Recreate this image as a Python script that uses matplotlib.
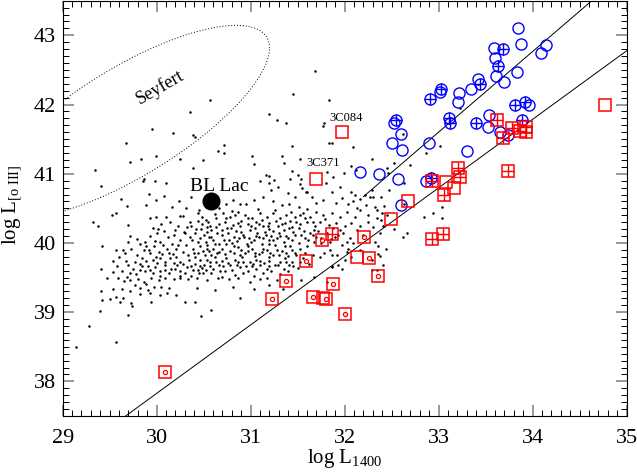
import numpy as np
import matplotlib
matplotlib.use("Agg")
import matplotlib.pyplot as plt

plt.rcParams["font.family"] = ["Liberation Serif", "DejaVu Serif"]
plt.rcParams["mathtext.fontset"] = "custom"
plt.rcParams["mathtext.rm"] = "Liberation Serif"
plt.rcParams["mathtext.it"] = "Liberation Serif:italic"

# background sample (black dots), log L1400 vs log L[OIII]
dots = np.array([
    (31.68, 42.49), (31.45, 42.15), (31.83, 42.07), (30.57, 42.07), (30.35, 41.89), (31.20, 41.86),
    (31.28, 41.77), (31.38, 41.74), (29.95, 41.65), (30.17, 41.59), (30.39, 41.56), (30.41, 41.53),
    (31.78, 41.74), (31.77, 41.69), (29.67, 41.44), (30.72, 41.42), (31.44, 41.40), (31.83, 41.44),
    (31.86, 41.44), (29.72, 41.17), (29.83, 41.22), (29.99, 41.25), (30.25, 41.22), (30.49, 41.20),
    (29.34, 41.05), (30.39, 41.08), (29.41, 40.82), (29.85, 40.89), (29.86, 40.93), (29.98, 40.89),
    (30.10, 40.86), (30.65, 41.33),
    # left part of the cloud
    (29.92, 40.71), (29.99, 40.62), (30.08, 40.68), (29.62, 40.64), (29.68, 40.54), (29.89, 40.55),
    (30.16, 40.52), (30.24, 40.60), (30.31, 40.51), (30.37, 40.67), (30.44, 40.44), (29.57, 40.44),
    (29.52, 40.41), (29.32, 40.30), (29.38, 40.24), (29.69, 40.26), (29.93, 40.36), (29.99, 40.37),
    (30.10, 40.37), (30.25, 40.39), (30.28, 40.39), (30.35, 40.31), (30.48, 40.38), (30.62, 40.42),
    (30.66, 40.50), (30.55, 40.31), (30.05, 40.28), (30.14, 40.30), (30.23, 40.24), (29.96, 40.21),
    (30.01, 40.20), (30.57, 40.25), (30.63, 40.23), (30.42, 40.20), (30.32, 40.23), (29.72, 40.10),
    (29.82, 39.99), (29.88, 40.01), (29.98, 40.03), (30.04, 40.02), (30.12, 40.08), (30.18, 40.12),
    (30.16, 39.99), (30.25, 40.04), (30.30, 40.14), (30.35, 40.09), (30.41, 40.15), (30.44, 40.02),
    (30.50, 40.12), (30.53, 40.16), (30.58, 40.09), (30.64, 40.14), (30.07, 39.97), (29.42, 39.96),
    (29.57, 39.90), (29.64, 39.90), (29.86, 39.90), (29.93, 39.85), (30.02, 39.87), (30.11, 39.92),
    (30.21, 39.92), (30.28, 39.87), (30.39, 39.92), (30.46, 39.95), (30.53, 39.97), (30.60, 39.92),
    (30.66, 39.99), (29.84, 39.78), (29.89, 39.74), (29.96, 39.75), (30.04, 39.78), (30.09, 39.73),
    (30.14, 39.78), (30.21, 39.80), (30.25, 39.73), (30.34, 39.75), (30.41, 39.80), (30.46, 39.75),
    (30.51, 39.83), (30.57, 39.73), (30.62, 39.80), (29.54, 39.74), (29.67, 39.74), (29.70, 39.68),
    (29.75, 39.63), (29.41, 39.63), (29.82, 39.61), (29.88, 39.59), (29.93, 39.61), (29.98, 39.65),
    (30.04, 39.59), (30.09, 39.61), (30.13, 39.57), (30.19, 39.62), (30.25, 39.59), (30.32, 39.65),
    (30.39, 39.61), (30.46, 39.67), (30.52, 39.61), (30.60, 39.63), (30.66, 39.68), (29.47, 39.49),
    (29.59, 39.50), (29.68, 39.51), (29.72, 39.47), (29.80, 39.48), (29.86, 39.44), (29.94, 39.50),
    (30.02, 39.47), (30.09, 39.50), (30.18, 39.48), (30.25, 39.50), (30.33, 39.48), (30.43, 39.50),
    (30.53, 39.46), (30.65, 39.50), (29.77, 39.39), (29.89, 39.41), (29.97, 39.37), (30.05, 39.36),
    (30.13, 39.35), (29.91, 39.32), (30.04, 39.25), (30.11, 39.27), (30.21, 39.25), (30.43, 39.35),
    (30.62, 39.32), (29.54, 39.33), (29.63, 39.33), (29.72, 39.31), (29.82, 39.35), (29.41, 39.30),
    (29.82, 39.26), (29.93, 39.27), (29.42, 39.18), (29.50, 39.19), (29.57, 39.22), (29.64, 39.21),
    (29.73, 39.13), (29.74, 39.09), (29.61, 39.15), (29.94, 39.15), (30.30, 39.14), (30.41, 39.15),
    (29.40, 39.02), (29.69, 38.96), (30.47, 38.95), (30.58, 39.03), (29.28, 38.80), (29.57, 38.57),
    (29.14, 38.50),
    (30.54, 40.23), (30.58, 40.19), (30.60, 40.04), (30.56, 39.89), (30.64, 39.85), (30.53, 39.75),
    (30.58, 39.56), (30.67, 39.59), (30.49, 39.56), (30.50, 39.68), (30.44, 39.61),
    (30.29, 40.16), (30.38, 40.04), (30.47, 40.20), (30.56, 40.09), (30.62, 39.99), (30.31, 39.97),
    (30.40, 39.86), (30.49, 39.89), (30.58, 39.83), (30.28, 39.70), (30.37, 39.67), (30.45, 39.56),
    (30.57, 39.67), (30.25, 39.52), (30.18, 39.71), (30.09, 39.68), (30.00, 39.71), (29.91, 39.67),
    (29.82, 39.70), (29.77, 39.73), (29.72, 39.56), (29.63, 39.59), (30.13, 39.85), (29.97, 39.95),
    (29.89, 39.96),
    (29.60, 39.80), (29.66, 39.85), (29.73, 39.92), (29.79, 39.83), (29.92, 39.90), (29.99, 39.80),
    (30.06, 39.84), (30.17, 39.84), (30.23, 39.97), (30.33, 39.83), (29.53, 39.58), (29.58, 39.66),
    (29.65, 39.45), (29.78, 39.55), (29.84, 39.66), (29.96, 39.56), (30.03, 39.52), (30.15, 39.63),
    (30.22, 39.68), (30.30, 39.57), (30.37, 39.52), (29.70, 40.02), (29.79, 40.06), (29.93, 40.10),
    (30.00, 40.14), (30.08, 40.18), (30.20, 40.19), (30.37, 40.24), (30.44, 40.32),
    # middle and right part of the cloud
    (30.72, 41.30), (31.01, 41.25), (31.03, 41.14), (31.33, 41.26), (31.35, 41.15), (31.52, 41.21),
    (32.29, 41.21), (31.44, 41.04), (31.50, 40.98), (31.42, 40.93), (31.54, 40.92), (31.16, 40.98),
    (31.19, 40.86), (31.20, 40.97), (31.25, 40.91), (31.10, 40.89), (31.29, 40.81), (31.22, 40.76),
    (31.52, 40.85), (31.59, 40.74), (31.60, 40.74), (31.55, 40.79), (31.40, 40.72), (31.47, 40.67),
    (31.81, 41.02), (31.88, 40.95), (31.80, 40.87), (31.86, 40.73), (31.95, 40.81), (31.99, 41.01),
    (32.07, 40.73), (32.11, 40.70), (32.16, 40.64), (32.22, 40.69), (32.29, 40.77), (32.13, 40.51),
    (32.23, 40.55), (32.32, 40.52), (32.42, 40.53), (32.45, 40.40), (32.39, 40.33), (32.35, 39.95),
    (32.38, 39.81), (32.09, 40.60), (32.04, 40.57), (31.97, 40.65), (31.91, 40.58), (31.77, 40.62),
    (31.70, 40.58), (31.65, 40.67), (31.13, 40.67), (31.03, 40.62), (30.95, 40.56), (30.89, 40.57),
    (30.81, 40.62), (30.74, 40.57), (31.24, 40.60), (31.33, 40.55), (31.41, 40.57), (31.51, 40.52),
    (31.60, 40.49),
    (30.71, 40.43), (30.78, 40.38), (30.87, 40.45), (30.94, 40.40), (31.01, 40.36), (31.10, 40.43),
    (31.17, 40.38), (31.24, 40.43), (31.31, 40.36), (31.38, 40.40), (31.47, 40.38), (31.56, 40.43),
    (31.63, 40.38), (31.70, 40.45), (31.77, 40.40), (31.86, 40.43), (31.95, 40.38), (32.02, 40.45),
    (32.11, 40.38), (32.16, 40.48), (32.25, 40.40), (32.34, 40.36), (30.73, 40.31), (30.81, 40.26),
    (30.90, 40.32), (30.97, 40.27), (31.06, 40.31), (31.13, 40.25), (31.20, 40.29), (31.29, 40.24),
    (31.36, 40.29), (31.44, 40.23), (31.52, 40.27), (31.60, 40.31), (31.68, 40.25), (31.74, 40.31),
    (31.83, 40.26), (31.91, 40.29), (32.00, 40.24), (32.07, 40.29), (32.16, 40.25), (32.25, 40.31),
    (32.30, 40.23), (30.69, 40.19), (30.76, 40.14), (30.84, 40.18), (30.92, 40.12), (30.99, 40.19),
    (31.07, 40.14), (31.15, 40.16), (31.22, 40.10), (31.30, 40.15), (31.38, 40.10), (31.45, 40.16),
    (31.54, 40.12), (31.63, 40.14), (31.70, 40.08), (31.81, 40.14), (31.90, 40.08), (31.98, 40.14),
    (32.06, 40.07), (32.13, 40.19), (32.20, 40.12), (30.72, 40.05), (30.80, 40.00), (30.88, 40.07),
    (30.96, 39.99), (31.03, 40.04), (31.12, 39.99), (31.19, 40.04), (31.26, 39.97), (31.35, 40.02),
    (31.42, 39.96), (31.51, 40.00), (31.60, 39.95), (31.67, 40.02), (31.97, 39.97), (32.04, 39.92),
    (32.09, 40.00), (32.16, 39.90), (30.70, 39.92), (30.78, 39.88), (30.86, 39.94), (30.94, 39.85),
    (31.01, 39.91), (31.09, 39.84), (31.17, 39.90), (31.24, 39.83), (31.33, 39.88), (31.40, 39.81),
    (31.47, 39.86), (31.56, 39.79), (31.74, 39.80), (31.84, 39.90), (31.86, 39.83), (30.74, 39.79),
    (30.83, 39.76), (30.91, 39.80), (30.99, 39.72), (31.06, 39.76), (31.14, 39.71), (31.20, 39.74),
    (31.29, 39.68), (31.38, 39.72), (31.45, 39.66), (30.71, 39.66), (30.80, 39.61), (30.89, 39.65),
    (30.97, 39.59), (31.06, 39.62), (31.13, 39.56), (31.22, 39.60), (31.31, 39.55), (31.40, 39.59),
    (30.69, 39.51), (30.77, 39.48), (30.87, 39.50), (30.99, 39.44), (31.10, 39.48), (30.81, 39.37),
    (31.03, 39.33), (31.20, 39.39), (31.81, 39.44), (31.86, 39.66), (31.93, 39.68), (31.75, 40.00),
    (31.84, 40.02), (32.00, 39.75), (32.07, 39.80), (32.29, 39.75), (32.34, 39.61), (32.41, 39.68),
    (32.30, 40.67), (32.39, 40.67), (32.47, 40.77), (30.89, 39.20),
    (30.74, 40.36), (30.83, 40.40), (30.89, 40.24), (30.97, 40.36), (31.05, 40.21), (31.12, 40.33),
    (31.20, 40.20), (31.27, 40.32), (31.35, 40.19), (31.42, 40.32), (31.51, 40.21), (31.58, 40.36),
    (31.67, 40.19), (30.75, 40.21), (30.82, 40.09), (30.90, 40.16), (30.98, 40.07), (31.06, 40.10),
    (31.13, 40.07), (31.20, 39.99), (31.28, 40.07), (31.36, 39.95), (31.44, 40.04), (31.52, 39.92),
    (31.61, 40.04), (30.74, 39.99), (30.82, 39.95), (30.90, 39.90), (30.97, 39.95), (31.05, 39.85),
    (31.13, 39.92), (31.20, 39.80), (31.28, 39.90), (31.36, 39.78), (31.44, 39.90), (31.52, 39.73),
    (30.76, 39.71), (30.85, 39.68), (30.92, 39.73), (31.01, 39.66), (31.10, 39.68), (31.17, 39.63),
    (31.26, 39.68), (31.35, 39.63), (31.44, 39.73), (30.73, 39.59), (30.83, 39.54), (30.92, 39.56),
    (31.03, 39.52), (31.17, 39.49), (31.28, 39.47),
    (30.45, 40.47), (30.52, 40.33), (30.63, 40.36), (30.80, 40.46), (31.08, 40.49), (31.26, 40.47),
    (31.43, 40.45), (31.52, 40.41), (31.66, 40.31), (31.79, 40.34),
    (30.48, 40.28), (30.66, 40.28), (30.79, 40.21), (30.86, 40.29), (31.00, 40.24), (31.09, 40.27),
    (31.18, 40.24), (31.24, 40.18), (31.33, 40.27), (31.41, 40.21), (31.48, 40.30), (31.57, 40.18),
    (31.72, 40.18), (31.88, 40.21), (31.95, 40.19),
    (30.46, 40.07), (30.52, 40.02), (30.69, 40.11), (30.77, 40.05), (30.85, 40.03), (30.93, 40.09),
    (31.00, 40.02), (31.09, 40.08), (31.16, 40.12), (31.24, 40.05), (31.31, 40.10), (31.40, 40.07),
    (31.47, 40.11), (31.58, 40.07), (31.66, 40.11), (31.75, 40.07), (31.85, 40.06), (31.93, 40.12),
    (32.02, 40.02),
    (30.44, 39.86), (30.53, 39.92), (30.66, 39.87), (30.73, 39.84), (30.82, 39.86), (30.89, 39.83),
    (30.97, 39.88), (31.05, 39.81), (31.12, 39.87), (31.21, 39.86), (31.30, 39.82), (31.38, 39.86),
    (31.48, 39.82), (31.58, 39.86), (31.66, 39.83), (31.78, 39.86), (31.92, 39.82),
    (30.41, 39.70), (30.48, 39.64), (30.63, 39.72), (30.69, 39.74), (30.78, 39.68), (30.86, 39.73),
    (30.95, 39.66), (31.02, 39.70), (31.10, 39.74), (31.19, 39.67), (31.31, 39.72), (31.41, 39.68),
    (31.50, 39.64), (31.62, 39.70),
    # far right / upper dots
    (32.09, 41.38), (32.62, 41.58), (33.01, 41.40), (32.87, 41.30), (33.23, 41.95), (32.52, 41.15),
    (32.46, 41.01), (32.63, 40.87), (32.07, 41.11), (32.12, 41.05), (32.27, 40.66), (32.34, 40.47),
    (32.40, 40.43), (32.84, 40.37), (32.94, 40.44), (33.04, 40.52), (33.04, 40.36), (32.63, 40.57),
    (32.66, 40.15), (32.62, 40.09), (32.44, 39.91), (32.52, 40.20), (32.41, 40.24), (32.38, 40.14),
    (32.32, 40.02), (32.29, 39.61), (32.35, 39.84), (31.86, 39.65), (31.67, 39.51), (31.54, 39.47),
    (31.34, 39.33), (31.97, 39.62), (32.02, 39.87), (32.69, 41.13), (32.45, 41.08),
])
dot_x = dots[:, 0]
dot_y = dots[:, 1]

# blue circles (open, and with a cross inside)
circ_x = [33.84, 33.88, 34.14, 34.09, 33.59, 33.60, 33.83, 33.61, 33.69, 33.42, 33.34, 33.22,
          33.01, 33.21, 32.52, 32.60, 32.50, 32.61, 32.90, 33.53, 33.52, 33.65, 33.74, 33.96,
          33.30, 32.16, 32.36, 32.57, 32.87, 32.60]
circ_y = [43.11, 42.88, 42.86, 42.75, 42.81, 42.67, 42.47, 42.41, 42.33, 42.37, 42.23, 42.16,
          42.18, 42.04, 41.74, 41.57, 41.44, 41.34, 41.44, 41.85, 41.68, 41.60, 41.56, 41.99,
          41.33, 41.03, 41.00, 40.93, 40.90, 40.55]
circ_plus_x = [33.68, 33.63, 33.44, 33.02, 32.91, 32.55, 33.11, 33.12, 33.40, 33.81, 33.92, 33.89, 32.92]
circ_plus_y = [42.80, 42.55, 42.29, 42.23, 42.08, 41.78, 41.81, 41.74, 41.74, 41.99, 42.04, 41.78, 40.94]

# red squares: open, crossed, and with a small circle inside
sq_x = [31.97, 31.70, 34.77, 32.67, 32.49, 33.16, 33.08, 32.13, 31.77]
sq_y = [41.60, 40.93, 41.99, 40.60, 40.35, 40.79, 40.88, 39.80, 39.21]
sq_plus_x = [33.62, 33.78, 33.93, 33.93, 33.87, 33.68, 33.74, 33.21, 33.23, 32.93, 33.06, 33.05, 32.93, 31.86]
sq_plus_y = [41.77, 41.66, 41.68, 41.61, 41.62, 41.51, 41.04, 41.08, 40.95, 40.90, 40.69, 40.13, 40.06, 40.13]
sq_dot_x = [32.21, 32.26, 32.35, 31.76, 31.59, 31.38, 31.88, 31.66, 31.80, 32.00, 31.23, 30.09]
sq_dot_y = [40.09, 39.79, 39.52, 40.04, 39.74, 39.45, 39.40, 39.22, 39.19, 38.98, 39.19, 38.13]

# BL Lac position
bllac_x, bllac_y = 30.58, 40.60

# two lines (intercept, slope, x start, x end)
line_lo = (8.127, 0.99, 29.0, 35.0)
line_hi = (3.157, 1.165, 32.20, 35.0)

# Seyfert region ellipse
sey_cx, sey_cy = 29.70, 41.75
sey_ax, sey_bx, sey_by = 1.50, 1.065, 0.90

fig = plt.figure(figsize=(6.37, 4.75), dpi=100)
ax = fig.add_axes([0.0984, 0.1242, 0.8854, 0.8743])

ax.plot(dot_x, dot_y, "o", color="black", ms=1.8, mew=0, zorder=2)

xl = np.linspace(line_lo[2], line_lo[3], 50)
ax.plot(xl, line_lo[0] + line_lo[1] * xl, color="black", lw=0.7, zorder=1)
xh = np.linspace(line_hi[2], line_hi[3], 50)
ax.plot(xh, line_hi[0] + line_hi[1] * xh, color="black", lw=0.7, zorder=1)

t = np.linspace(0, 2 * np.pi, 300)
ax.plot(sey_cx + sey_ax * np.cos(t), sey_cy + sey_bx * np.cos(t) + sey_by * np.sin(t),
        ls=(0, (1, 2)), color="black", lw=0.7)

ax.plot(circ_x, circ_y, "o", mfc="none", mec="blue", ms=8, mew=1.0, zorder=4)
ax.plot(circ_plus_x, circ_plus_y, "o", mfc="none", mec="blue", ms=8, mew=1.0, zorder=4)
ax.plot(circ_plus_x, circ_plus_y, "+", color="blue", ms=8, mew=1.0, zorder=4)

ax.plot(sq_x, sq_y, "s", mfc="none", mec="red", ms=8.6, mew=1.1, zorder=5)
ax.plot(sq_plus_x, sq_plus_y, "s", mfc="none", mec="red", ms=8.6, mew=1.1, zorder=5)
ax.plot(sq_plus_x, sq_plus_y, "+", color="red", ms=8.6, mew=1.0, zorder=5)
ax.plot(sq_dot_x, sq_dot_y, "s", mfc="none", mec="red", ms=8.6, mew=1.1, zorder=5)
ax.plot(sq_dot_x, sq_dot_y, "o", mfc="none", mec="red", ms=3, mew=0.9, zorder=5)

ax.plot([bllac_x], [bllac_y], "o", color="black", ms=12, zorder=6)
ax.text(30.67, 40.82, "BL Lac", fontsize=14, ha="center", va="center")
ax.text(30.03, 42.25, "Seyfert", fontsize=13, ha="center", va="center", rotation=30)
ax.text(32.02, 41.80, "3C084", fontsize=9, ha="center", va="center")
ax.text(31.77, 41.15, "3C371", fontsize=9, ha="center", va="center")

ax.set_xlim(29, 35)
ax.set_ylim(37.5, 43.5)
ax.set_xticks(np.arange(29, 36, 1))
ax.set_yticks(np.arange(38, 44, 1))
ax.set_xticks(np.arange(29, 35.01, 0.1), minor=True)
ax.set_yticks(np.arange(37.5, 43.51, 0.1), minor=True)
ax.tick_params(which="both", direction="in", top=True, right=True)
ax.tick_params(which="major", length=8, width=1.4, color="0.6", labelsize=16, labelcolor="black")
ax.tick_params(axis="x", which="major", pad=9)
ax.tick_params(axis="y", which="major", pad=5)
ax.tick_params(which="minor", length=4.5, width=0.7, color="black")
for sp in ax.spines.values():
    sp.set_linewidth(0.8)

fig.text(344.7 / 637, 1 - 463 / 475, r"log L$_{\mathrm{1400}}$", fontsize=15, ha="center", va="baseline")
fig.text(12 / 637, 1 - 205 / 475, r"log L$_{\mathrm{[o\ III]}}$", fontsize=15, ha="center", va="center",
         rotation=90)

fig.savefig("out.png", dpi=100)
